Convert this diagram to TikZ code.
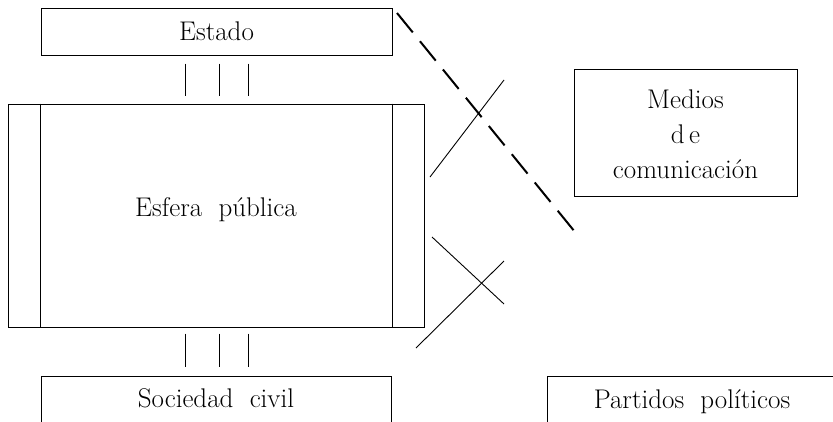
\documentclass[tikz,border=0pt]{standalone}
\usepackage{tikz}
\usetikzlibrary{positioning,calc}

\begin{document}
\begin{tikzpicture}[x=1pt,y=-1pt,line width=1pt,
    box node/.style={rectangle,draw,inner sep=0pt},
    text node/.style={font=\fontsize{27}{35}\selectfont,align=center,inner sep=0pt},
    tick/.style={line width=0.9pt},
    media link/.style={line width=2pt,dash pattern=on 25pt off 11.4pt}]

\useasboundingbox (0,0) rectangle (833,421);
\clip (0,0) rectangle (833,421);

% boxes
\node[box node,minimum width=351,minimum height=47]  (estado)  at (216.5,31.5)  {};
\node[text node]  (estado text)  at (216.5,31.5)  {Estado};
\node[box node,minimum width=416,minimum height=223] (esfera)  at (216,215.5)   {};
\node[text node]  (esfera text)  at (216,210)     {Esfera\ \ pública};
\node[box node,minimum width=223,minimum height=127] (medios)  at (685.5,132.5) {};
\node[text node]  (medios text)  at (685.5,134)   {Medios\\d\,e\\comunicación};

\draw ($(esfera.north west)+(33,0)$) -- ($(esfera.south west)+(33,0)$);
\draw ($(esfera.north east)+(-32,0)$) -- ($(esfera.south east)+(-32,0)$);

% open boxes at the bottom
\draw (41,440) -- (41,376) -- (391,376) -- (391,440);
\node[text node,anchor=base] (sociedad) at (216,407) {Sociedad\ \ civil};
\draw (547,440) -- (547,376) -- (840,376);
\node[text node,anchor=base] (partidos) at (692,408) {Partidos\ \ políticos};

% ticks
\foreach \dx in {-31.5,2.5,31.5}
    \draw[tick] ([xshift=\dx pt]estado.south) ++(0,8) -- ++(0,32);
\foreach \dx in {-31,3,32}
    \draw[tick] ([xshift=\dx pt]esfera.south) ++(0,6) -- ++(0,33);

% crossing lines
\coordinate (m1) at (430,177);
\coordinate (m2) at (504,80);
\coordinate (p1) at (432,237);
\coordinate (p2) at (504,304);
\coordinate (p3) at (416,348);
\coordinate (p4) at (504,261);
\draw[tick] (m1) -- (m2);
\draw[tick] (p1) -- (p2);
\draw[tick] (p3) -- (p4);

\coordinate (d1) at (397,13);
\coordinate (d2) at (575,232);
\draw[media link] (d1) -- (d2);
\end{tikzpicture}
\end{document}
